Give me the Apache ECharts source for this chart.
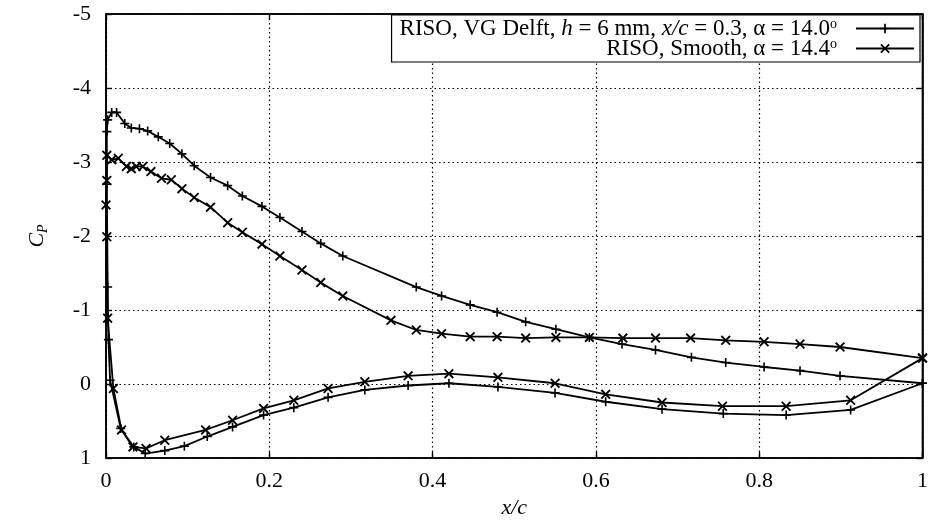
<!DOCTYPE html>
<html>
<head>
<meta charset="utf-8">
<script src="https://cdn.jsdelivr.net/npm/echarts@6/dist/echarts.min.js"></script>
<style>
html,body{margin:0;padding:0;background:#fff;}
#chart{width:931px;height:528px;}
</style>
</head>
<body>
<div id="chart"></div>
<script>
// x/c and Cp values, upper surface from trailing edge to leading edge, then lower surface back to trailing edge
var vgX = [1.0,0.899,0.850,0.806,0.759,0.717,0.673,0.632,0.592,0.551,0.514,0.479,0.446,0.411,0.380,0.290,0.263,0.240,0.213,0.191,0.167,0.149,0.128,0.108,0.093,0.078,0.064,0.051,0.041,0.031,0.023,0.013,0.007,0.002,0.001,
           0.001,0.002,0.003,0.005,0.018,0.034,0.048,0.072,0.096,0.124,0.155,0.193,0.230,0.272,0.317,0.370,0.420,0.480,0.550,0.612,0.681,0.756,0.833,0.912,1.0];
var vgCp = [-0.01,-0.11,-0.18,-0.23,-0.29,-0.36,-0.46,-0.54,-0.63,-0.74,-0.84,-0.97,-1.07,-1.19,-1.31,-1.73,-1.90,-2.06,-2.25,-2.40,-2.54,-2.68,-2.79,-2.95,-3.11,-3.25,-3.34,-3.42,-3.45,-3.46,-3.52,-3.67,-3.67,-3.57,-3.41,
            -2.70,-1.31,-0.60,-0.05,0.60,0.85,0.94,0.90,0.84,0.71,0.58,0.42,0.32,0.18,0.08,0.02,-0.01,0.04,0.12,0.24,0.34,0.40,0.42,0.35,-0.01];
var smX = [1.0,0.899,0.850,0.806,0.759,0.716,0.673,0.633,0.592,0.551,0.514,0.479,0.446,0.411,0.380,0.349,0.290,0.263,0.240,0.213,0.191,0.167,0.149,0.128,0.108,0.093,0.080,0.068,0.055,0.045,0.037,0.031,0.025,0.015,0.007,0.001,
           0.001,0.000,0.001,0.002,0.009,0.019,0.033,0.049,0.072,0.122,0.155,0.193,0.230,0.272,0.317,0.370,0.420,0.480,0.550,0.612,0.681,0.755,0.833,0.912,1.0];
var smCp = [-0.35,-0.50,-0.54,-0.57,-0.59,-0.62,-0.62,-0.62,-0.63,-0.63,-0.62,-0.64,-0.64,-0.68,-0.73,-0.86,-1.19,-1.37,-1.54,-1.73,-1.89,-2.05,-2.18,-2.39,-2.52,-2.64,-2.76,-2.78,-2.87,-2.94,-2.94,-2.91,-2.94,-3.05,-3.03,-3.09,
            -2.75,-2.42,-1.99,-0.89,0.06,0.62,0.85,0.87,0.76,0.62,0.49,0.33,0.22,0.06,-0.03,-0.11,-0.14,-0.09,-0.01,0.14,0.25,0.30,0.30,0.22,-0.35];
var xTickLabels = ['0','0.2','0.4','0.6','0.8','1'];
var yTickLabels = ['-5','-4','-3','-2','-1','0','1'];
var seriesNames = ['vg','smooth'];

function pairs(xs, ys){ var out=[]; for(var i=0;i<xs.length;i++){ out.push([xs[i], ys[i]]); } return out; }

var FONT = 'Liberation Serif';
var plusPath = 'path://M4.1,0H5.9V10H4.1Z M0,4.1H10V5.9H0Z';
var crossPath = 'path://M0,1.3L1.3,0L10,8.7L8.7,10Z M8.7,0L10,1.3L1.3,10L0,8.7Z';

var chart = echarts.init(document.getElementById('chart'), null, {renderer:'canvas'});
function axisBase(){
  return {
    axisLine:{show:true, onZero:false, lineStyle:{color:'#000', width:1.6}},
    axisTick:{show:true, inside:true, length:6, lineStyle:{color:'#000', width:1.4}},
    splitLine:{show:false}
  };
}
var gridLine = {show:true, lineStyle:{color:'#000', type:[1.5,3], width:1.2}};
var LH = 18;
var option = {
  animation:false,
  backgroundColor:'#fff',
  grid:{left:106, right:2, top:14, bottom:70, show:true, borderColor:'#000', borderWidth:1.6, containLabel:false},
  legend:{
    orient:'vertical', align:'right', right:11, top:15,
    itemWidth:58, itemHeight:12, itemGap:-3,
    padding:[2,5,2,8],
    borderColor:'#000', borderWidth:1.2,
    backgroundColor:'#fff',
    data:['vg','smooth'],
    formatter:function(n){
      if(n==='vg') return '{t|RISO, VG Delft, }{i|h}{t| = 6 mm, }{i|x/c}{t| = 0.3, α = 14.0}{s|o}{g|}';
      return '{t|RISO, Smooth, α = 14.4}{s|o}{g|}';
    },
    textStyle:{fontFamily:FONT, fontSize:23, lineHeight:LH, color:'#000',
      rich:{t:{fontFamily:FONT, fontSize:23, lineHeight:LH, color:'#000'},
            i:{fontFamily:FONT, fontStyle:'italic', fontSize:23, lineHeight:LH, color:'#000'},
            s:{fontFamily:FONT, fontSize:14, lineHeight:10, color:'#000', padding:[0,0,8,0]},
            g:{width:14, lineHeight:LH}}}
  },
  xAxis:[Object.assign(axisBase(), {
    type:'value', min:0, max:1, interval:0.2, position:'bottom',
    name:'x/c', nameLocation:'middle', nameGap:38,
    nameTextStyle:{fontFamily:FONT, fontStyle:'italic', fontSize:22, color:'#000'},
    axisLabel:{fontFamily:FONT, fontSize:22, color:'#000', margin:12,
      formatter:function(v){ return xTickLabels[Math.round(v/0.2)]; }},
    splitLine:gridLine
  }), Object.assign(axisBase(), {
    type:'value', min:0, max:1, interval:0.2, position:'top', axisLabel:{show:false}
  })],
  yAxis:[Object.assign(axisBase(), {
    type:'value', min:-5, max:1, interval:1, inverse:true, position:'left',
    name:'{c|C}{p|P}', nameLocation:'middle', nameGap:56, nameRotate:90,
    nameTextStyle:{fontFamily:FONT, fontSize:22, color:'#000',
      rich:{c:{fontFamily:FONT, fontStyle:'italic', fontSize:22, color:'#000'},
            p:{fontFamily:FONT, fontStyle:'italic', fontSize:14, color:'#000', padding:[12,0,0,0]}}},
    axisLabel:{fontFamily:FONT, fontSize:22, color:'#000', margin:15,
      formatter:function(v){ return yTickLabels[Math.round(v+5)]; }},
    splitLine:gridLine
  }), Object.assign(axisBase(), {
    type:'value', min:-5, max:1, interval:1, inverse:true, position:'right', axisLabel:{show:false}
  })],
  series:[
    {name:seriesNames[0], type:'line', xAxisIndex:0, yAxisIndex:0, data:pairs(vgX, vgCp),
     symbol:plusPath, symbolSize:9, showAllSymbol:true,
     lineStyle:{color:'#000', width:1.8}, itemStyle:{color:'#000'}, z:3},
    {name:seriesNames[1], type:'line', xAxisIndex:0, yAxisIndex:0, data:pairs(smX, smCp),
     symbol:crossPath, symbolSize:10, showAllSymbol:true,
     lineStyle:{color:'#000', width:1.8}, itemStyle:{color:'#000'}, z:3}
  ]
};
chart.setOption(option);
</script>
</body>
</html>
